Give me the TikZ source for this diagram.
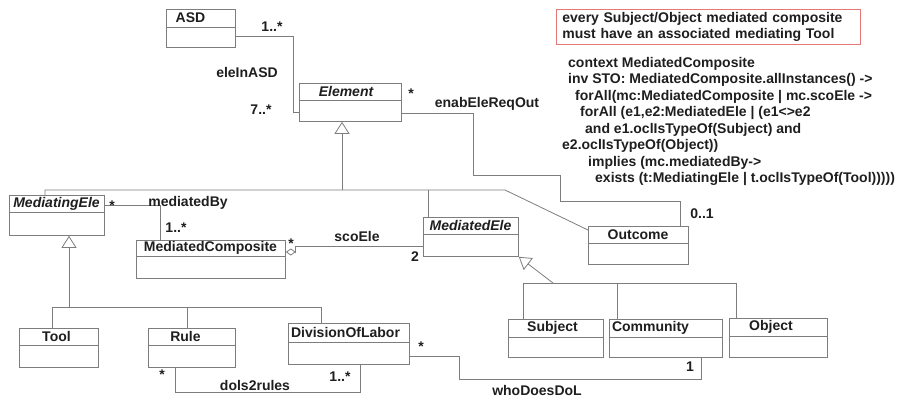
\documentclass[tikz,border=0pt]{standalone}
\usepackage{fontspec}
\setmainfont{Liberation Sans}
\usetikzlibrary{arrows.meta}

\definecolor{umlgray}{RGB}{125,125,125}
\definecolor{umltext}{RGB}{30,30,30}
\definecolor{notered}{RGB}{228,120,120}

% class box: [title opts]{name}{x1}{y1}{x2}{y2}{divider y}{title}
\newcommand{\umlclass}[8][]{%
  \node[classbox, anchor=north west, minimum width={(#5-#3)*1pt},
        minimum height={(#6-#4)*1pt}] (#2) at (#3,#4) {};
  \draw[assoc] (#2.west |- 0,#7) -- (#2.east |- 0,#7);
  \node[clsname, #1] (#2-name) at ({(#3+#5)/2},{(#4+#7)/2}) {#8};
}

\begin{document}
\begin{tikzpicture}[x=1pt, y=-1pt,
    classbox/.style={draw=umlgray, line width=0.8pt, fill=white, inner sep=0pt},
    clsname/.style={font=\bfseries\fontsize{14}{16.5}\selectfont, text=umltext, inner sep=0pt},
    lbl/.style={font=\bfseries\fontsize{14}{16.5}\selectfont, text=umltext, inner sep=0pt},
    assoc/.style={draw=umlgray, line width=0.8pt},
    gen/.style={assoc, -{Triangle[open, length=12pt, width=15pt]}}
]
    \useasboundingbox (0,0) rectangle (915,399);

    % --- Classes ---
    \umlclass[xshift=-10pt]{ASD}{166}{9}{235}{47}{27}{ASD}
    \umlclass[xshift=-4pt]{Element}{299}{83}{401}{121}{100}{\itshape Element}
    \umlclass{MediatingEle}{9}{195}{104}{235}{212}{\itshape MediatingEle}
    \umlclass{MediatedComposite}{136}{240}{285}{278}{256}{MediatedComposite}
    \umlclass{MediatedEle}{423}{217}{518}{256}{234}{\itshape MediatedEle}
    \umlclass{Outcome}{588}{226}{688}{264}{243}{Outcome}
    \umlclass[xshift=-2pt]{Tool}{19}{328}{98}{367}{345}{Tool}
    \umlclass[xshift=-6pt]{Rule}{148}{328}{235}{367}{345}{Rule}
    \umlclass[xshift=-3pt]{DivisionOfLabor}{288}{323}{409}{364}{342}{DivisionOfLabor}
    \umlclass[xshift=-3pt]{Subject}{508}{319}{603}{357}{337}{Subject}
    \umlclass[xshift=-15pt]{Community}{609}{319}{722}{357}{337}{Community}
    \umlclass[xshift=-7pt]{Object}{729}{318}{827}{357}{336}{Object}

    % --- Constraint ---
    \node[draw=notered, line width=0.8pt, anchor=north west, text width=292pt,
          inner xsep=6pt, inner ysep=0pt, minimum height=35pt, align=left,
          font=\bfseries\fontsize{14}{16}\selectfont, text=umltext] (note) at (556,9)
        {every Subject/Object mediated composite\\must have an associated mediating Tool};
    \node[lbl, anchor=north west, align=left] (ocl) at (562,57)
        {\hspace*{6pt}context MediatedComposite\\
         \hspace*{6pt}inv STO: MediatedComposite.allInstances() ->\\
         \hspace*{13pt}forAll(mc:MediatedComposite | mc.scoEle ->\\
         \hspace*{18pt}forAll (e1,e2:MediatedEle | (e1<>e2\\
         \hspace*{23pt}and e1.oclIsTypeOf(Subject) and\\
         e2.oclIsTypeOf(Object))\\
         \hspace*{26pt}implies (mc.mediatedBy->\\
         \hspace*{33pt}exists (t:MediatingEle | t.oclIsTypeOf(Tool)))))};

    % --- Generalizations ---
    \draw[gen] (342,190) -- (Element.south -| 342,0);
    \draw[assoc] (MediatingEle.north -| 45,0) |- (505,190) -- ([yshift=-4pt]Outcome.north west);
    \draw[assoc] (MediatedEle.north -| 428,0) -- (428,190);

    \draw[gen] (69,307) -- (MediatingEle.south -| 69,0);
    \draw[assoc] (Tool.north -| 52,0) |- (321,307) -- (DivisionOfLabor.north -| 321,0);
    \draw[assoc] (Rule.north -| 187,0) -- (187,307);

    \draw[gen] (553,283) -- (MediatedEle.south east);
    \draw[assoc] (Subject.north -| 523,0) |- (736,283) -- (Object.north -| 736,0);
    \draw[assoc] (Community.north -| 617,0) -- (617,283);

    % --- Associations ---
    % eleInASD
    \draw[assoc] (ASD.east |- 0,36) -| (293,112) -- (Element.west |- 0,112);
    \node[lbl] (asdm1) at (272,27) {1..*};
    \node[lbl] (asdlbl) at (247,72) {eleInASD};
    \node[lbl] (asdm2) at (261,110) {7..*};
    % enabEleReqOut
    \draw[assoc] (Element.east |- 0,113) -| (473,175) -| (560,201) -| (Outcome.north -| 680,0);
    \node[lbl] (outm1) at (411,94) {*};
    \node[lbl] (outlbl) at (487,104) {enabEleReqOut};
    \node[lbl] (outm2) at (702,214) {0..1};
    % mediatedBy
    \draw[assoc] (MediatingEle.east |- 0,205) -| (MediatedComposite.north -| 160,0);
    \node[lbl] (medm1) at (112,206) {*};
    \node[lbl] (medlbl) at (188,203) {mediatedBy};
    \node[lbl] (medm2) at (176,228) {1..*};
    % scoEle
    \draw[assoc, {Diamond[open, length=10pt, width=7pt]}-] (MediatedComposite.east |- 0,252) -- (295,252) |- (MediatedEle.west |- 0,246);
    \node[lbl] (scom1) at (291,244) {*};
    \node[lbl] (scolbl) at (357,236) {scoEle};
    \node[lbl] (scom2) at (415,257) {2};
    % dols2rules
    \draw[assoc] (Rule.south -| 175,0) |- (360,392) -- (DivisionOfLabor.south -| 360,0);
    \node[lbl] (rulm1) at (162,375) {*};
    \node[lbl] (rullbl) at (255,385) {dols2rules};
    \node[lbl] (rulm2) at (340,377) {1..*};
    % whoDoesDoL
    \draw[assoc] (DivisionOfLabor.east |- 0,356) -| (459,379) -| (Community.south -| 701,0);
    \node[lbl] (whom1) at (421,347) {*};
    \node[lbl] (whom2) at (690,367) {1};
    \node[lbl] (wholbl) at (537,390) {whoDoesDoL};

\end{tikzpicture}
\end{document}
